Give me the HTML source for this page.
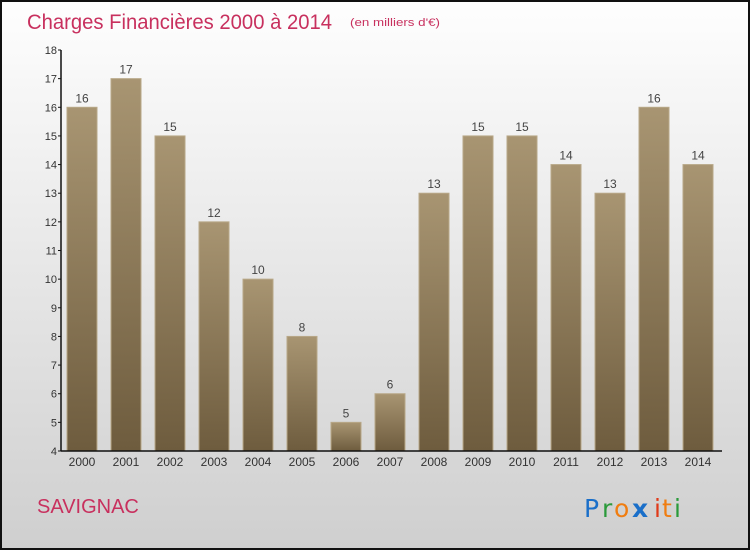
<!DOCTYPE html>
<html><head><meta charset="utf-8"><style>
body{margin:0}
#c{position:relative;width:750px;height:550px;box-sizing:border-box;border:2px solid #111;background:linear-gradient(#fefefe,#cfcfcf);font-family:"Liberation Sans",sans-serif;overflow:hidden}
</style></head><body>
<div id="c">
<svg width="746" height="546" style="position:absolute;left:0;top:0">
<defs><linearGradient id="bg" x1="0" y1="0" x2="0" y2="1"><stop offset="0" stop-color="#a89572"/><stop offset="1" stop-color="#6e5c3e"/></linearGradient></defs>
<text x="25" y="27" font-size="21" textLength="305" lengthAdjust="spacingAndGlyphs" fill="#c8305e">Charges Financières 2000 à 2014</text>
<text x="348" y="24" font-size="11" textLength="90" lengthAdjust="spacingAndGlyphs" fill="#c8305e">(en milliers d'€)</text>
<g id="plot"></g>
<text x="35" y="511" font-size="20" fill="#c8305e">SAVIGNAC</text>
<g font-size="25" font-family="'DejaVu Sans',sans-serif">
<text x="582" y="515" fill="#1a6fc9">P</text><text x="600" y="515" fill="#2a9a3a">r</text><text x="612" y="515" fill="#f07d10">o</text><text x="630" y="515" fill="#1a6fc9" font-weight="bold">x</text><text x="652" y="515" fill="#e03a1a">i</text><text x="660" y="515" fill="#f07d10">t</text><text x="672" y="515" fill="#2a9a3a">i</text></g>
</svg>
</div>
<script>
const categories=["2000","2001","2002","2003","2004","2005","2006","2007","2008","2009","2010","2011","2012","2013","2014"];
const values=[16,17,15,12,10,8,5,6,13,15,15,14,13,16,14];
const yTicks=[4,5,6,7,8,9,10,11,12,13,14,15,16,17,18];
const NS="http://www.w3.org/2000/svg";
const g=document.getElementById('plot');
const y0=449,y1=48,vmin=4,vmax=18,xL=59,xR=720;
function yS(v){return y0-(v-vmin)/(vmax-vmin)*(y0-y1);}
function xS(i){return 80+i*44;}
function mk(t,a,txt){const e=document.createElementNS(NS,t);for(const k in a)e.setAttribute(k,a[k]);if(txt!==undefined)e.textContent=txt;g.appendChild(e);return e;}
values.forEach((v,i)=>{
 const r=mk('rect',{x:xS(i)-15,y:yS(v),width:30,height:y0-yS(v),fill:'url(#bg)',stroke:'#b8a888','stroke-width':1});
 
 
 const l=mk('text',{x:xS(i),y:yS(v)-5,'text-anchor':'middle','font-size':12,fill:'#444'},String(v));
 
 
 const c=mk('text',{x:xS(i),y:y0+15,'text-anchor':'middle','font-size':12,fill:'#333'},categories[i]);
 
 
});
yTicks.forEach(t=>{
 const tk=mk('line',{x1:xL-3,x2:xL,y1:yS(t),y2:yS(t),stroke:'#111'});
 
 
 const lb=mk('text',{x:xL-4,y:yS(t)+4,'text-anchor':'end','font-size':11,fill:'#333'},String(t));
 
 
});
const ya=mk('line',{x1:xL,x2:xL,y1:y1,y2:y0,stroke:'#111','stroke-width':1.5});


const xa=mk('line',{x1:xL,x2:xR,y1:y0,y2:y0,stroke:'#111','stroke-width':1.5});


</script>
</body></html>
